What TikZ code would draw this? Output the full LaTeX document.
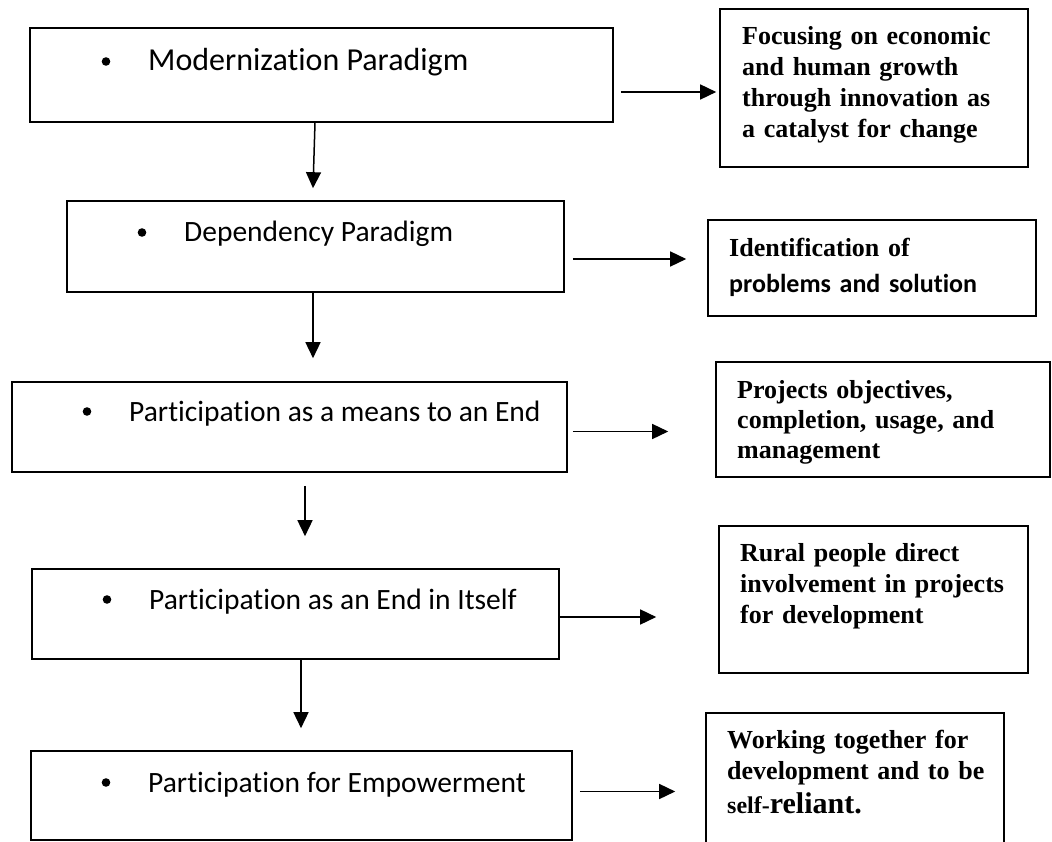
\documentclass[tikz,border=0pt]{standalone}
\usepackage{fontspec}
\setmainfont{Liberation Serif}
\newfontfamily\calibrifont[Ligatures=NoCommon]{Carlito}
\usetikzlibrary{arrows.meta}
\begin{document}
\begin{tikzpicture}[x=1pt,y=-1pt,
  lbox/.style={draw, line width=1.6pt, rectangle, inner sep=0pt},
  ltext/.style={anchor=base west, inner sep=0pt, font=\calibrifont\fontsize{29.5}{36}\selectfont},
  rtext/.style={anchor=base west, inner sep=0pt, align=left, text width=320pt, font=\bfseries\fontsize{26}{30.7}\selectfont},
  arr/.style={line width=1.5pt, -{Triangle[length=16pt,width=15pt]}}]
\useasboundingbox (0,0) rectangle (1052,842);
\clip (0,0) rectangle (1052,842);
\fill[white] (0,0) rectangle (1052,842);
% left boxes
\node[lbox, minimum width=583pt, minimum height=94pt] (L1) at (321.5,75) {};
\node[lbox, minimum width=497pt, minimum height=91pt] (L2) at (315.5,246.5) {};
\node[lbox, minimum width=555pt, minimum height=90pt] (L3) at (289.5,427) {};
\node[lbox, minimum width=527pt, minimum height=90pt] (L4) at (295.5,614) {};
\node[lbox, minimum width=541pt, minimum height=89pt] (L5) at (301.5,795.5) {};
% right boxes
\node[lbox, minimum width=308pt, minimum height=158pt] (R1) at (874,88) {};
\node[lbox, minimum width=328pt, minimum height=96pt] (R2) at (872,268) {};
\node[lbox, minimum width=334pt, minimum height=115pt] (R3) at (883,419.5) {};
\node[lbox, minimum width=309pt, minimum height=147pt] (R4) at (873.5,599.5) {};
\node[lbox, minimum width=298pt, minimum height=157pt] (R5) at (855,791.5) {};
% bullets
\fill (106,61.5) circle (4.3);
\fill (142,232.5) circle (4.3);
\fill (87,411.5) circle (4.3);
\fill (107,599.5) circle (4.3);
\fill (106,782.5) circle (4.3);
% left texts
\node[ltext, font=\calibrifont\fontsize{32}{38}\selectfont] (t1) at (148,71) {Modernization Paradigm};
\node[ltext] (t2) at (184,242) {Dependency Paradigm};
\node[ltext] (t3) at (129,421) {Participation as a means to an End};
\node[ltext] (t4) at (149,609) {Participation as an End in Itself};
\node[ltext] (t5) at (148,792) {Participation for Empowerment};
% right texts
\node[rtext] (s1) at (742,45) {Focusing on economic\\and human growth\\through innovation as\\a catalyst for change};
\node[rtext] (s2) at (729,257) {Identification of\\[5.3pt]{\calibrifont problems and solution}};
\node[rtext, font=\bfseries\fontsize{26}{30}\selectfont] (s3) at (737,398) {Projects objectives,\\completion, usage, and\\management};
\node[rtext, font=\bfseries\fontsize{26}{31}\selectfont] (s4) at (740,561) {Rural people direct\\involvement in projects\\for development};
\node[rtext, font=\bfseries\fontsize{26}{31}\selectfont] (s5) at (727,748) {Working together for\\development and to be\\[3pt]{\fontsize{24}{30}\selectfont self-}{\fontsize{30}{36}\selectfont reliant.}};
% vertical arrows
\draw[arr] ([xshift=-6.5pt]L1.south) -- ([shift={(-2.5,-12)}]L2.north);
\draw[arr] ([xshift=-2.5pt]L2.south) -- ([shift={(23.5,-23)}]L3.north);
\draw[arr] ([shift={(15.5,13)}]L3.south) -- ([shift={(9.5,-32)}]L4.north);
\draw[arr] ([xshift=5.5pt]L4.south) -- ([shift={(-0.5,-22)}]L5.north);
% horizontal arrows
\draw[arr] ([shift={(7,17)}]L1.east) -- ([shift={(-3,4)}]R1.west);
\draw[arr] ([shift={(8,12.5)}]L2.east) -- ([shift={(-21,-9)}]R2.west);
\draw[arr] ([shift={(5,4.5)}]L3.east) -- ([shift={(-47,12)}]R3.west);
\draw[arr] ([shift={(0,3)}]L4.east) -- ([shift={(-62,17.5)}]R4.west);
\draw[arr] ([shift={(7,-4)}]L5.east) -- ([shift={(-30,0)}]R5.west);
\end{tikzpicture}
\end{document}
